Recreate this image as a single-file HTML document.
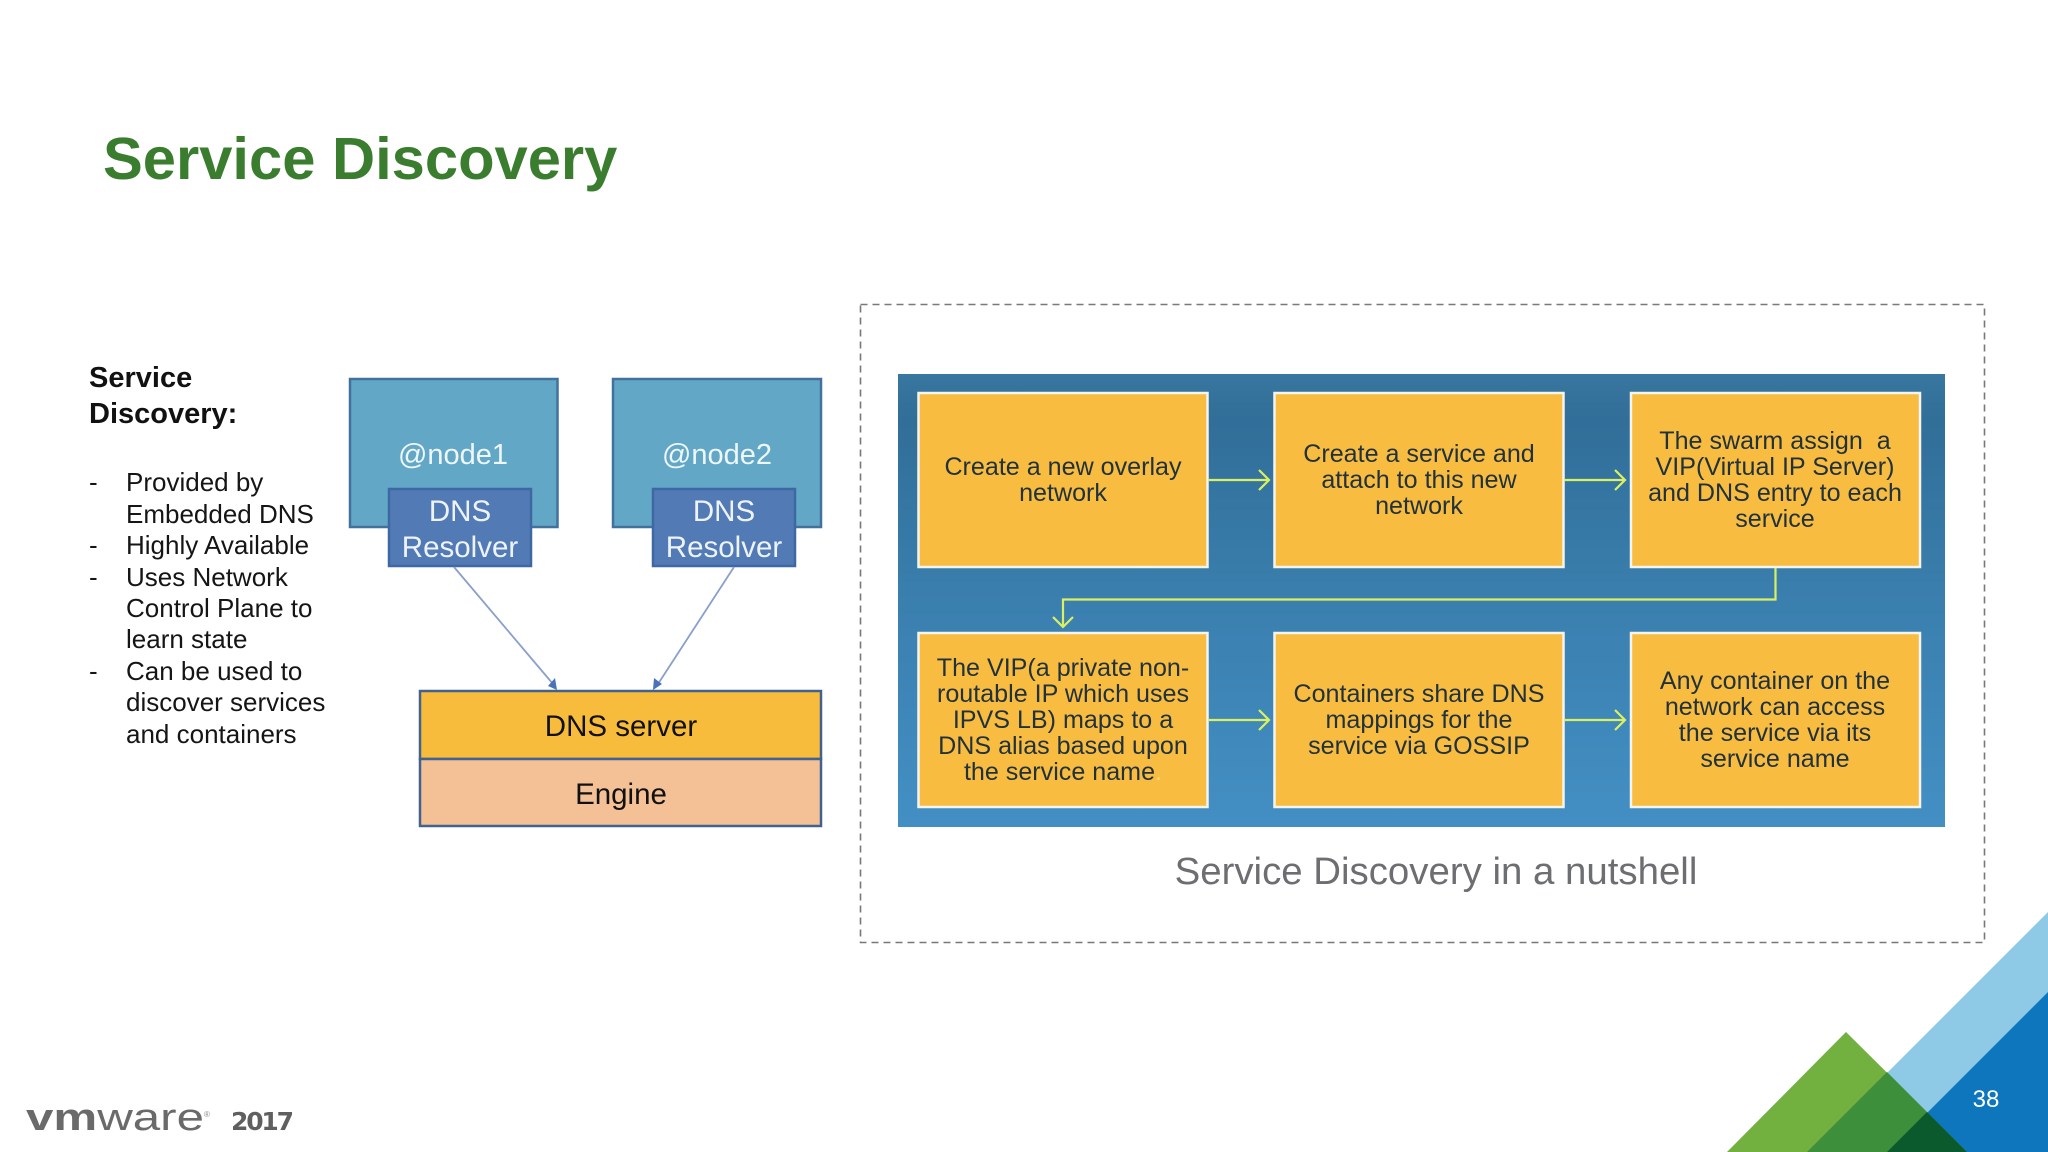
<!DOCTYPE html>
<html><head><meta charset="utf-8"><style>
html,body{margin:0;padding:0;background:#fff;width:2048px;height:1152px;overflow:hidden}
svg{display:block}
text{font-family:"Liberation Sans",sans-serif;white-space:pre}
</style></head><body>
<svg width="2048" height="1152" viewBox="0 0 2048 1152" xmlns="http://www.w3.org/2000/svg">
<defs>
<linearGradient id="bg" x1="0" y1="0" x2="0" y2="1">
<stop offset="0" stop-color="#38779f"/><stop offset=".1" stop-color="#316e98"/><stop offset=".5" stop-color="#3a7fae"/><stop offset="1" stop-color="#438fc4"/>
</linearGradient>
</defs>
<rect width="2048" height="1152" fill="#fff"/>
<text x="103" y="179" font-size="59.7" font-weight="700" fill="#3a7d2f">Service Discovery</text>

<g font-size="29" font-weight="700" fill="#111"><text x="89" y="387">Service</text><text x="89" y="423">Discovery:</text></g>
<g font-size="26" fill="#151515">
<text x="89" y="491">-</text><text x="126" y="491">Provided by</text>
<text x="126" y="523">Embedded DNS</text>
<text x="89" y="554">-</text><text x="126" y="554">Highly Available</text>
<text x="89" y="586">-</text><text x="126" y="586">Uses Network</text>
<text x="126" y="617">Control Plane to</text>
<text x="126" y="648">learn state</text>
<text x="89" y="680">-</text><text x="126" y="680">Can be used to</text>
<text x="126" y="711">discover services</text>
<text x="126" y="743">and containers</text>
</g>

<rect x="350" y="379" width="207.500" height="148" fill="#62a8c6" stroke="#41719c" stroke-width="2.5"/>
<rect x="613" y="379" width="208" height="148" fill="#62a8c6" stroke="#41719c" stroke-width="2.5"/>
<g font-size="29" fill="#eef6fa" text-anchor="middle"><text x="453" y="464">@node1</text><text x="717" y="464">@node2</text></g>
<rect x="389" y="489" width="142" height="77" fill="#527bb5" stroke="#3e68a4" stroke-width="2.5"/>
<rect x="653" y="489" width="142" height="77" fill="#527bb5" stroke="#3e68a4" stroke-width="2.5"/>
<g font-size="29.500" fill="#eef3fa" text-anchor="middle">
<text x="460" y="521">DNS</text><text x="460" y="557">Resolver</text>
<text x="724" y="521">DNS</text><text x="724" y="557">Resolver</text>
</g>
<line x1="454" y1="567" x2="553" y2="684" stroke="#8a9fcb" stroke-width="1.8"/>
<line x1="734" y1="567" x2="658" y2="684" stroke="#8a9fcb" stroke-width="1.8"/>
<polygon points="557,690 548,686 555,678" fill="#4a72b8"/>
<polygon points="653,690 654,678 662,684" fill="#4a72b8"/>
<rect x="420" y="691" width="401" height="68" fill="#f8bc3c" stroke="#41628f" stroke-width="2.5"/>
<rect x="420" y="759" width="401" height="67" fill="#f4c196" stroke="#41628f" stroke-width="2.5"/>
<g font-size="29.500" fill="#111" text-anchor="middle"><text x="621" y="736">DNS server</text><text x="621" y="804">Engine</text></g>

<rect x="860.500" y="304.500" width="1124" height="638" fill="none" stroke="#77787b" stroke-width="1.6" stroke-dasharray="7 5"/>
<rect x="898" y="374" width="1047" height="453" fill="url(#bg)"/>
<g fill="#f7bc40" stroke="#f4f4f0" stroke-width="2.500">
<rect x="918.500" y="393" width="289" height="174"/><rect x="1274.500" y="393" width="289" height="174"/><rect x="1631" y="393" width="289" height="174"/>
<rect x="918.500" y="633" width="289" height="174"/><rect x="1274.500" y="633" width="289" height="174"/><rect x="1631" y="633" width="289" height="174"/>
</g>
<g fill="none" stroke="#dcef62" stroke-width="2.200">
<path d="M1208 480H1268M1259 470l10 10l-10 10"/>
<path d="M1564 480H1624M1615 470l10 10l-10 10"/>
<path d="M1208 720H1268M1259 710l10 10l-10 10"/>
<path d="M1564 720H1624M1615 710l10 10l-10 10"/>
<path d="M1775.500 568V599.500H1063V626M1053 617l10 10l10 -10"/>
</g>
<g font-size="25.100" fill="#22323d" text-anchor="middle">
<text x="1063" y="475">Create a new overlay</text><text x="1063" y="501">network</text>
<text x="1419" y="462">Create a service and</text><text x="1419" y="488">attach to this new</text><text x="1419" y="514">network</text>
<text x="1775" y="449">The swarm assign  a</text><text x="1775" y="475">VIP(Virtual IP Server)</text><text x="1775" y="501">and DNS entry to each</text><text x="1775" y="527">service</text>
<text x="1063" y="676">The VIP(a private non-</text><text x="1063" y="702">routable IP which uses</text><text x="1063" y="728">IPVS LB) maps to a</text><text x="1063" y="754">DNS alias based upon</text><text x="1063" y="780">the service name<tspan fill="#f9dc80">.</tspan></text>
<text x="1419" y="702">Containers share DNS</text><text x="1419" y="728">mappings for the</text><text x="1419" y="754">service via GOSSIP</text>
<text x="1775" y="689">Any container on the</text><text x="1775" y="715">network can access</text><text x="1775" y="741">the service via its</text><text x="1775" y="767">service name</text>
</g>
<text x="1436" y="884" font-size="38.400" fill="#6d6e71" text-anchor="middle">Service Discovery in a nutshell</text>

<polygon points="2048,912 1808,1152 2048,1152" fill="#8ecae6"/>
<polygon points="2048,992 1888,1152 2048,1152" fill="#0e76bc"/>
<polygon points="1846,1032 1727,1152 1967,1152" fill="#72b03f"/>
<polygon points="1887,1072 1807,1152 1967,1152" fill="#3d8f3c"/>
<polygon points="1927,1112 1887,1152 1967,1152" fill="#0b5a2d"/>
<text x="1986" y="1107" font-size="24" fill="#fff" text-anchor="middle">38</text>

<text x="26" y="1130" font-size="38" fill="#6a6a6a" textLength="178" lengthAdjust="spacingAndGlyphs"><tspan font-weight="700">vm</tspan>ware</text>
<text x="204" y="1117" font-size="8" fill="#8a8a8a">®</text>
<text x="231" y="1130" font-size="25" font-weight="700" fill="#5f5f5f" textLength="63" style="font-family:'DejaVu Sans',sans-serif">2017</text>
</svg>
</body></html>
